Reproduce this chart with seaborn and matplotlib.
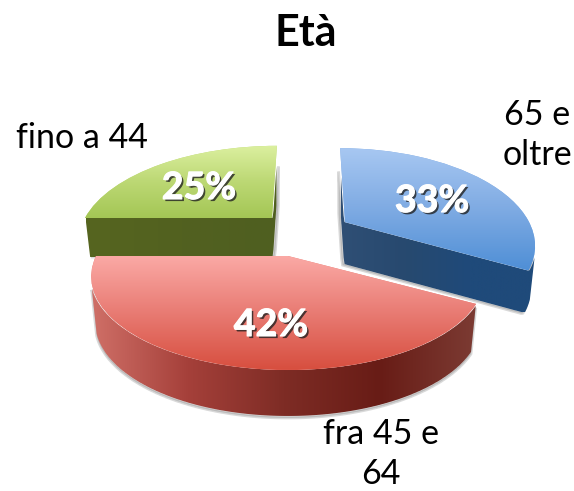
import numpy as np
import seaborn as sns
import matplotlib.pyplot as plt
import matplotlib.patheffects as pe
from matplotlib.patches import Polygon
from matplotlib.transforms import Transform

# Data
age_groups = ['65 e\noltre', 'fra 45 e\n64', 'fino a 44']
shares = [33, 42, 25]

# Per slice layout: centre x, centre y, x radius, y radius, lean, wall depth
slice_layout = [
    (345, 222, 184, 90, -6, 42),
    (288, 256, 192, 89, 0, 46),
    (272, 218, 187, 88, 6, 39),
]
shadow_shift = [(-2, 1), (0, 2), (2, 0)]
top_colors = [['#a8c8f2', '#7fabe3', '#4f8fd6'],
              ['#fbaaa6', '#e87a72', '#d64c3c'],
              ['#dcf0a0', '#bcd874', '#a4c655']]
wall_colors = [['#2f4f75', '#27496f', '#1f4a7a', '#1f4a7a'],
               ['#cf6f67', '#a5403a', '#7e2c25', '#681c16', '#7c3b33'],
               ['#56651f', '#526120', '#4f5f20']]
draw_order = [2, 0, 1]
share_label_pos = [(432, 201), (271, 325), (199, 188)]
group_label_pos = [(537, 135), (381, 454), (82, 138)]


class Perspective(Transform):
    # tilted disc seen from the front: near side bigger than far side
    input_dims = 2
    output_dims = 2
    tilt = 0.219

    def __init__(self, cx, cy, a, b, lean):
        super().__init__()
        self.cx, self.cy, self.a, self.b, self.lean = cx, cy, a, b, lean

    def transform_non_affine(self, values):
        values = np.asarray(values)
        u, v = values[:, 0], values[:, 1]
        w = 1 + self.tilt * v
        return np.column_stack([self.cx + (self.a * u + self.lean * v) / w,
                                self.cy - self.b * v / w])


def wall_outline(wedge, persp, depth):
    # lower edge of the slice on screen, then the same edge pushed down
    t = np.radians(np.linspace(wedge.theta1, wedge.theta2, 1500))
    s = np.linspace(0, 1, 800)
    uv = np.vstack([np.column_stack([np.cos(t), np.sin(t)]),
                    np.column_stack([s * np.cos(t[0]), s * np.sin(t[0])]),
                    np.column_stack([s * np.cos(t[-1]), s * np.sin(t[-1])])])
    pts = persp.transform_non_affine(uv)
    xs = np.arange(pts[:, 0].min() + 0.5, pts[:, 0].max(), 1.0)
    low = np.array([pts[np.abs(pts[:, 0] - x) < 1.0, 1].max() for x in xs])
    # bottom rim sits a bit further away, so it is slightly narrower
    bottom_x = persp.cx + (xs - persp.cx) * 0.975
    return np.vstack([np.column_stack([xs, low]),
                      np.column_stack([bottom_x[::-1], low[::-1] + depth])])


def clipped_gradient(ax, colors, extent, clip, horizontal, zorder):
    cmap = sns.blend_palette(colors, as_cmap=True)
    grad = np.linspace(0, 1, 256)
    grad = grad.reshape(1, -1) if horizontal else grad.reshape(-1, 1)
    im = ax.imshow(grad, cmap=cmap, aspect='auto', extent=extent,
                   origin='upper', zorder=zorder)
    im.set_clip_path(clip)


sns.set_theme(style='white')
plt.rcParams['font.family'] = ['Lato', 'DejaVu Sans']

fig = plt.figure(figsize=(5.74, 4.91), dpi=100)
ax = fig.add_axes([0, 0, 1, 1])

wedges, _ = ax.pie(shares, startangle=90, counterclock=False, radius=1)

for rank, i in enumerate(draw_order):
    wedge = wedges[i]
    cx, cy, a, b, lean, depth = slice_layout[i]
    persp = Perspective(cx, cy, a, b, lean)
    base = rank * 10 + 2

    outline = wall_outline(wedge, persp, depth)
    shadow = Polygon(outline + shadow_shift[i], transform=ax.transData,
                     fc='#555555', ec='#555555', lw=2, alpha=0.22, zorder=base)
    ax.add_patch(shadow)
    wall = Polygon(outline, transform=ax.transData, fc='none', ec='none',
                   zorder=base + 1)
    ax.add_patch(wall)
    clipped_gradient(ax, wall_colors[i],
                     (outline[:, 0].min(), outline[:, 0].max(),
                      outline[:, 1].max(), outline[:, 1].min()),
                     wall, True, base + 1)

    wedge.set_transform(persp + ax.transData)
    wedge.set_facecolor(top_colors[i][1])
    wedge.set_edgecolor('none')
    wedge.set_zorder(base + 2)
    top_y = persp.transform_path(wedge.get_path()).vertices[:, 1]
    clipped_gradient(ax, top_colors[i],
                     (cx - a - 10, cx + a + 10, top_y.max(), top_y.min()),
                     wedge, False, base + 3)

ax.set_aspect('auto')
ax.set_xlim(0, 574)
ax.set_ylim(491, 0)
ax.axis('off')

ax.text(306, 33, 'Età', fontsize=31, fontweight='bold', color='black',
        ha='center', va='center', zorder=50)

for group, share, lab_pos, share_pos in zip(age_groups, shares, group_label_pos,
                                            share_label_pos):
    ax.text(lab_pos[0], lab_pos[1], group, fontsize=24.5, color='black',
            ha='center', va='center', linespacing=1.31, zorder=50)
    ax.text(share_pos[0], share_pos[1], f'{share}%', fontsize=27,
            fontweight='bold', color='white', ha='center', va='center', zorder=50,
            path_effects=[pe.SimplePatchShadow(offset=(1.5, -1.5), shadow_rgbFace='#222222',
                                               alpha=0.8),
                          pe.Stroke(linewidth=0.8, foreground='white'),
                          pe.Normal()])

fig.savefig('out.png', dpi=100)
